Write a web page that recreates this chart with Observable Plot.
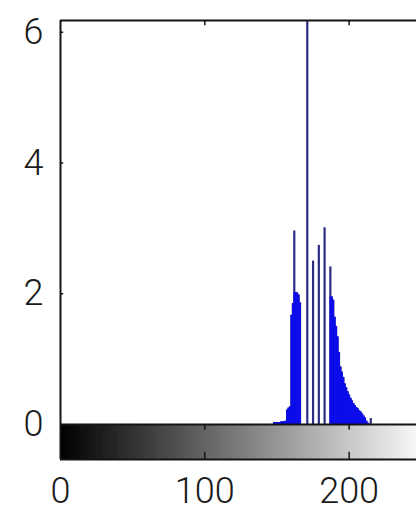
<!DOCTYPE html>
<html>
<head>
<meta charset="utf-8">
<script src="https://cdn.jsdelivr.net/npm/d3@7"></script>
<script src="https://cdn.jsdelivr.net/npm/@observablehq/plot@0.6"></script>
<style>
  html, body { margin: 0; padding: 0; background: #fff; }
  #chart { width: 416px; height: 514px; overflow: hidden; }
</style>
</head>
<body>
<div id="chart"></div>
<script>
// Intensity histogram (counts in units of 10^4 pixels) with a gray-level bar
const bins = [148, 149, 150, 151, 152, 153, 154, 155, 156, 157, 158, 159,
  160, 161, 162, 163, 164, 165, 166, 167, 168, 169, 170, 171, 172, 173, 174,
  175, 176, 177, 178, 179, 180, 181, 182, 183, 184, 185, 186, 187, 188, 189,
  190, 191, 192, 193, 194, 195, 196, 197, 198, 199, 200, 201, 202, 203, 204,
  205, 206, 207, 208, 209, 210, 211, 212, 213, 214, 215];
const counts = [0.03, 0.03, 0.03, 0.03, 0.03, 0.04, 0.04, 0.04, 0.05, 0.22, 0.25, 0.27,
  1.67, 1.85, 2.96, 2.02, 2.01, 1.98, 1.86, 0, 0, 0, 0, 7.2, 0, 0, 0,
  2.5, 0, 0, 0, 2.74, 0, 0, 0, 3.01, 0, 0, 0, 2.41, 1.95, 1.9,
  1.64, 1.5, 1.34, 1.1, 0.88, 0.8, 0.72, 0.62, 0.56, 0.5, 0.45, 0.4, 0.36, 0.32, 0.29,
  0.26, 0.24, 0.21, 0.19, 0.16, 0.13, 0.1, 0.05, 0.02, 0, 0.09];
const yTicks = [0, 2, 4, 6];
const xTicks = [0, 100, 200];
const grayLevels = d3.range(0, 256);

const hist = bins.map((b, i) => ({
  bin: b,
  count: counts[i],
  neighbor: Math.max(counts[i - 1] ?? 0, counts[i + 1] ?? 0)
})).filter(d => d.count > 0);

const yTop = 6.18;     // upper limit of the histogram axes
const yBar = -0.536;   // lower edge of the gray-level bar
const ink = "#141414";
const font = "Roboto, 'Liberation Sans', Arial, sans-serif";

const chart = Plot.plot({
  width: 416,
  height: 514,
  marginLeft: 60,
  marginTop: 20,
  marginBottom: 55,
  marginRight: 0,
  x: {domain: [0, 255], range: [60, 428]},
  y: {domain: [yBar, yTop], range: [459, 20]},
  color: {type: "identity"},
  style: {fontFamily: font, fontWeight: 300, background: "#fff", color: "#1a1a1a"},
  marks: [
    // gray-level bar under the histogram
    Plot.rect(grayLevels, {
      x1: d => d, x2: d => d + 1.5, y1: yBar, y2: 0,
      fill: d => `rgb(${d},${d},${d})`
    }),
    // stems: dark where a bin rises above its neighbours
    Plot.ruleX(hist, {x: "bin", y1: 0, y2: "count", stroke: "#2c2c86", strokeWidth: 2.2, clip: true}),
    Plot.ruleX(hist, {x: "bin", y1: 0, y2: d => Math.min(d.count, d.neighbor), stroke: "#0b0bef", strokeWidth: 1.7}),
    // axes box (top, baseline, bar bottom, left)
    Plot.ruleY([yTop, 0, yBar], {stroke: ink, strokeWidth: 2}),
    Plot.ruleX([0], {y1: yBar, y2: yTop, stroke: ink, strokeWidth: 2}),
    // inward tick marks
    Plot.ruleY(yTicks.filter(v => v > 0), {x1: 0, x2: 2.2, stroke: ink, strokeWidth: 1.5}),
    Plot.ruleX(xTicks.filter(v => v > 0), {y1: yTop, y2: yTop - 0.08, stroke: ink, strokeWidth: 1.5}),
    Plot.ruleX(xTicks.filter(v => v > 0), {y1: 0, y2: -0.09, stroke: ink, strokeWidth: 1.5}),
    Plot.ruleX(xTicks.filter(v => v > 0), {y1: yBar, y2: yBar + 0.11, stroke: ink, strokeWidth: 1.5}),
    // tick labels
    Plot.axisY(yTicks, {anchor: "left", tickSize: 0, tickPadding: 17, fontSize: 36, label: null, tickFormat: d3.format("d")}),
    Plot.axisX(xTicks, {anchor: "bottom", tickSize: 0, tickPadding: 18, fontSize: 36, label: null, tickFormat: d3.format("d")})
  ]
});
document.getElementById("chart").append(chart);
</script>
</body>
</html>
